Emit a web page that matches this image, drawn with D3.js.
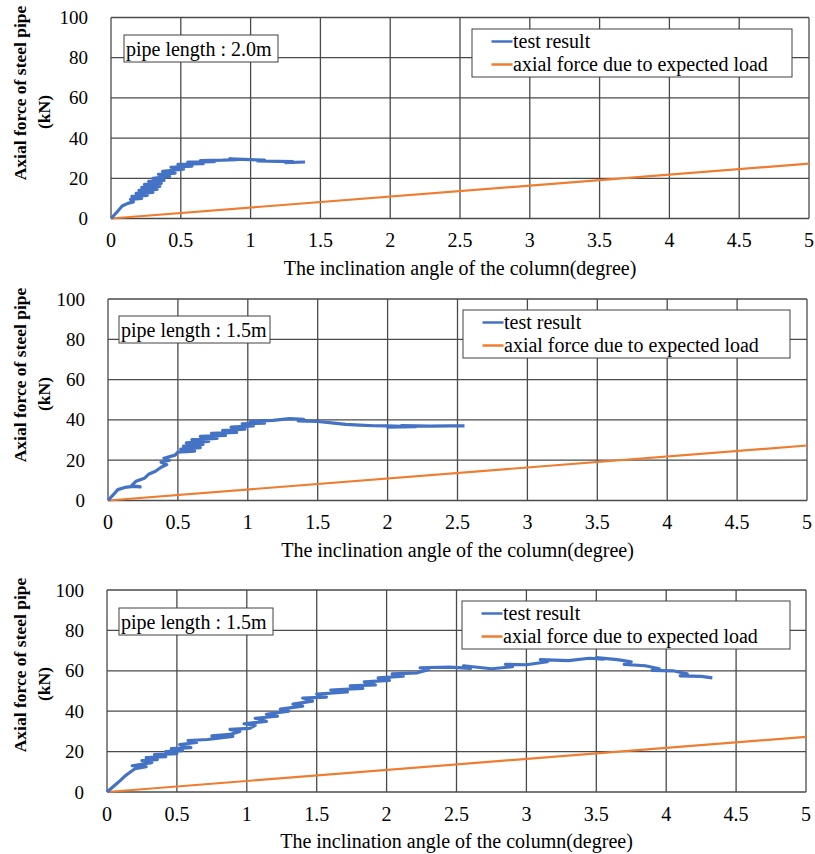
<!DOCTYPE html>
<html>
<head>
<meta charset="utf-8">
<script src="https://cdn.jsdelivr.net/npm/d3@7"></script>
<style>
body { margin: 0; background: #fff; }
svg { display: block; font-family: "Liberation Serif", "Times New Roman", serif; }
</style>
</head>
<body>
<svg id="chart" width="815" height="854"></svg>
<script>
var X_TICKS = [0, 0.5, 1, 1.5, 2, 2.5, 3, 3.5, 4, 4.5, 5];
var Y_TICKS = [0, 20, 40, 60, 80, 100];
var X_TITLE = "The inclination angle of the column(degree)";
var Y_TITLE = ["Axial force of steel pipe", "(kN)"];
var SERIES_NAMES = ["test result", "axial force due to expected load"];
var PIPE_LABELS = ["pipe length : 2.0m", "pipe length : 1.5m", "pipe length : 1.5m"];

// [angle (degree), axial force (kN)]
var EXPECTED_LOAD = [[0, 0], [5, 27.3]];

var TEST_PIPE_2_0 = [
    [0, 0], [0.04, 3], [0.08, 6.2], [0.12, 7.5], [0.16, 8.2], [0.14, 9.5], [0.22, 10], [0.15, 11],
    [0.26, 11.5], [0.18, 12.5], [0.3, 13], [0.2, 14], [0.33, 14.5], [0.22, 15.5], [0.35, 16],
    [0.24, 17], [0.36, 17.5], [0.27, 18.5], [0.38, 19], [0.3, 20], [0.42, 21], [0.34, 22],
    [0.46, 22.5], [0.37, 23.5], [0.52, 24.5], [0.43, 25.5], [0.58, 26], [0.48, 27], [0.66, 27.3],
    [0.55, 28], [0.74, 28.3], [0.64, 28.8], [0.8, 29], [0.9, 29.3], [0.85, 29.7], [1.0, 29.3],
    [1.1, 29], [1.05, 28.6], [1.2, 28.4], [1.3, 28.3], [1.25, 27.8], [1.39, 28.1]
];

var TEST_PIPE_1_5_A = [
    [0, 0], [0.04, 3], [0.07, 5.4], [0.12, 6.5], [0.18, 7], [0.23, 6.8], [0.17, 7.5], [0.2, 9.5],
    [0.26, 11], [0.29, 13], [0.34, 14.5], [0.38, 16.5], [0.42, 17.8], [0.38, 19], [0.44, 20],
    [0.4, 21], [0.48, 22.5], [0.5, 24], [0.62, 24.5], [0.52, 25.5], [0.66, 26.2], [0.54, 27],
    [0.68, 27.8], [0.56, 28.6], [0.72, 29.3], [0.6, 30.2], [0.78, 30.8], [0.66, 31.8], [0.84, 32.3],
    [0.74, 33.3], [0.92, 33.8], [0.82, 34.8], [0.98, 35.4], [0.88, 36.4], [1.04, 37], [0.96, 38],
    [1.12, 38.4], [1.02, 39.3], [1.18, 39.8], [1.3, 40.6], [1.4, 40.3], [1.36, 39.5], [1.5, 39.2],
    [1.6, 38.5], [1.7, 37.8], [1.8, 37.4], [1.9, 37.1], [2.0, 37.0], [2.1, 36.8], [2.0, 36.4],
    [2.2, 36.6], [2.1, 37.2], [2.3, 36.9], [2.45, 37.0], [2.55, 37.0]
];

var TEST_PIPE_1_5_B = [
    [0, 0], [0.05, 3], [0.1, 6], [0.13, 8], [0.16, 9.5], [0.2, 11.5], [0.28, 12.5], [0.18, 13],
    [0.32, 14.5], [0.25, 15.5], [0.36, 16], [0.28, 17], [0.42, 17.5], [0.34, 18.5], [0.5, 19],
    [0.42, 20], [0.54, 20.5], [0.46, 21.5], [0.6, 22], [0.52, 23.5], [0.64, 24.5], [0.58, 25.5],
    [0.72, 26], [0.9, 27.5], [0.75, 27.8], [0.88, 28.5], [0.95, 30], [0.88, 31], [1.02, 31.5],
    [1.06, 33], [0.98, 33.8], [1.14, 35], [1.06, 36.5], [1.22, 37.5], [1.14, 38.5], [1.3, 40],
    [1.24, 41], [1.4, 42.5], [1.33, 43.5], [1.47, 45], [1.4, 46.5], [1.57, 47], [1.5, 48.5],
    [1.72, 49.5], [1.6, 50.5], [1.83, 51.3], [1.74, 52.5], [1.92, 53], [1.84, 54.5], [2.02, 55.3],
    [1.94, 56.5], [2.12, 57.3], [2.04, 58.5], [2.22, 59], [2.3, 60.5], [2.24, 61.5], [2.45, 61.8],
    [2.6, 61.2], [2.55, 62.5], [2.75, 61], [2.9, 62], [2.85, 63.2], [3.0, 63], [3.15, 64.5],
    [3.1, 65.5], [3.3, 65], [3.45, 66.2], [3.55, 65.8], [3.5, 66.5], [3.65, 65.5], [3.75, 64.5],
    [3.7, 63.2], [3.85, 62.5], [3.95, 61], [3.9, 60.2], [4.05, 60], [4.15, 58.5], [4.1, 57.5],
    [4.25, 57.2], [4.33, 56.5]
];

var TEST_SERIES = [TEST_PIPE_2_0, TEST_PIPE_1_5_A, TEST_PIPE_1_5_B];

var BLUE = "#4472c4";
var ORANGE = "#ed7d31";
var GRID = "#4a4a4a";

var PANELS = [
    {top: 17.5, bottom: 218.5, left: 111, right: 809, legend: {x: 472, y: 29, w: 320}, label: {x: 124, y: 35, w: 154}, titleY: 93, unitY: 112},
    {top: 299, bottom: 500.5, left: 108, right: 807, legend: {x: 463, y: 310, w: 327}, label: {x: 119, y: 316, w: 151}, titleY: 375, unitY: 394},
    {top: 590, bottom: 792, left: 107, right: 806, legend: {x: 462, y: 601, w: 328}, label: {x: 119, y: 608, w: 154}, titleY: 665, unitY: 684}
];

var svg = d3.select("#chart");

function drawPanel (p, i) {
    var x = d3.scaleLinear().domain([0, 5]).range([p.left, p.right]);
    var y = d3.scaleLinear().domain([0, 100]).range([p.bottom, p.top]);
    var g = svg.append("g").attr("class", "panel");

    // grid
    g.selectAll(".vgrid").data(X_TICKS).enter().append("line")
        .attr("x1", d => x(d)).attr("x2", d => x(d))
        .attr("y1", p.top).attr("y2", p.bottom)
        .attr("stroke", GRID).attr("stroke-width", 1.3);
    g.selectAll(".hgrid").data(Y_TICKS).enter().append("line")
        .attr("x1", p.left).attr("x2", p.right)
        .attr("y1", d => y(d)).attr("y2", d => y(d))
        .attr("stroke", GRID).attr("stroke-width", 1.3);

    // tick labels
    g.selectAll(".xt").data(X_TICKS).enter().append("text")
        .attr("x", d => x(d)).attr("y", p.bottom + 28.5)
        .attr("text-anchor", "middle").attr("font-size", 20)
        .text(d => d);
    g.selectAll(".yt").data(Y_TICKS).enter().append("text")
        .attr("x", p.left - 23).attr("y", d => y(d) + 6.5)
        .attr("text-anchor", "end").attr("font-size", 19)
        .text(d => d);

    // axis titles
    g.append("text")
        .attr("x", (p.left + p.right) / 2).attr("y", p.bottom + 56)
        .attr("text-anchor", "middle").attr("font-size", 20)
        .text(X_TITLE);
    g.append("text")
        .attr("transform", "translate(26," + p.titleY + ") rotate(-90)")
        .attr("text-anchor", "middle").attr("font-size", 17.5).attr("font-weight", "bold")
        .text(Y_TITLE[0]);
    g.append("text")
        .attr("transform", "translate(50," + p.unitY + ") rotate(-90)")
        .attr("text-anchor", "middle").attr("font-size", 17.5).attr("font-weight", "bold")
        .text(Y_TITLE[1]);

    var line = d3.line().x(d => x(d[0])).y(d => y(d[1]));

    g.append("path").datum(EXPECTED_LOAD)
        .attr("d", line).attr("fill", "none")
        .attr("stroke", ORANGE).attr("stroke-width", 2.2);
    g.append("path").datum(TEST_SERIES[i])
        .attr("d", line).attr("fill", "none")
        .attr("stroke", BLUE).attr("stroke-width", 3.2)
        .attr("stroke-linejoin", "round");

    // pipe length label
    g.append("rect")
        .attr("x", p.label.x).attr("y", p.label.y)
        .attr("width", p.label.w).attr("height", 27)
        .attr("fill", "#fff").attr("stroke", "#404040").attr("stroke-width", 1);
    g.append("text")
        .attr("x", p.label.x + 2).attr("y", p.label.y + 20.5)
        .attr("font-size", 20)
        .text(PIPE_LABELS[i]);

    // legend
    var lg = g.append("g").attr("transform", "translate(" + p.legend.x + "," + p.legend.y + ")");
    lg.append("rect")
        .attr("width", p.legend.w).attr("height", 48)
        .attr("fill", "#fff").attr("stroke", "#404040").attr("stroke-width", 1);
    var rows = lg.selectAll(".row").data(SERIES_NAMES).enter().append("g")
        .attr("transform", (d, k) => "translate(0," + (12.5 + k * 23) + ")");
    rows.append("line")
        .attr("x1", 19.5).attr("x2", 40.5)
        .attr("stroke", (d, k) => k === 0 ? BLUE : ORANGE).attr("stroke-width", 2.5);
    rows.append("text")
        .attr("x", 41).attr("y", 6.5).attr("font-size", 20)
        .text(d => d);
}

PANELS.forEach(drawPanel);
</script>
</body>
</html>
